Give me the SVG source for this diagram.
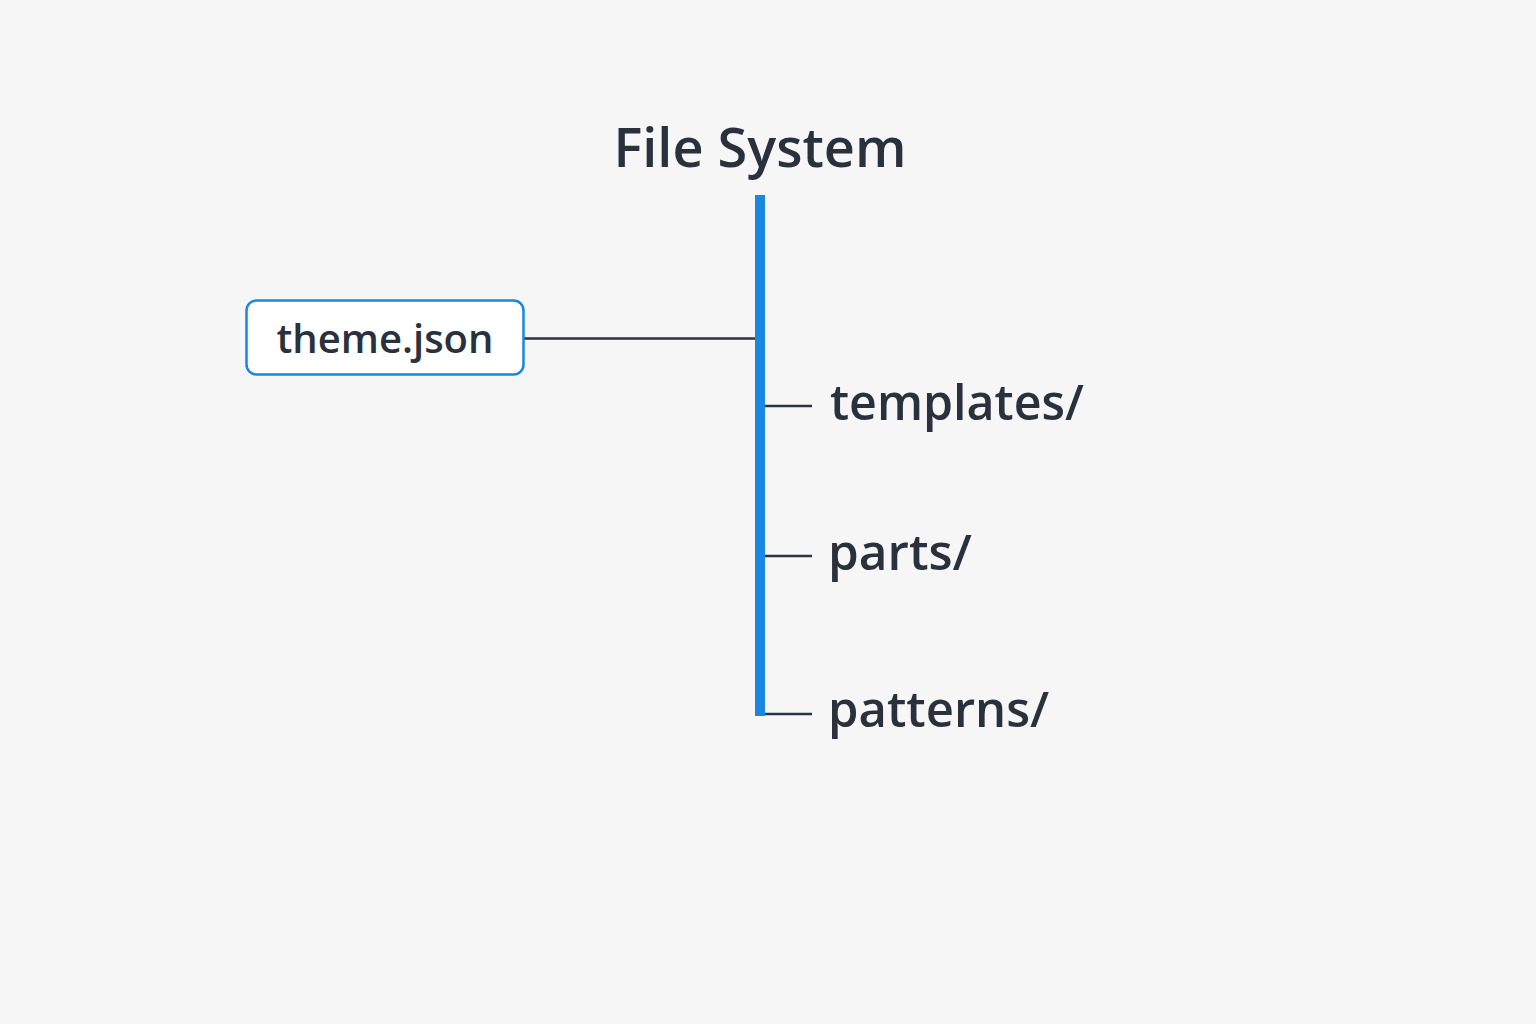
<svg xmlns="http://www.w3.org/2000/svg" width="1536" height="1024" viewBox="0 0 1536 1024">
<style>
.t{font-family:"Open Sans","Noto Sans","Liberation Sans",sans-serif;fill:#29313d;font-weight:600}
.c{stroke:#2b3440;stroke-width:2.5;fill:none}
</style>
<rect width="1536" height="1024" fill="#f6f6f6"/>
<g id="title"><text class="t" x="760" y="167" font-size="54" text-anchor="middle">File System</text></g>
<g id="connectors">
<line class="c" x1="524" y1="338.5" x2="756" y2="338.5"/>
<line class="c" x1="764" y1="406" x2="812" y2="406"/>
<line class="c" x1="764" y1="556" x2="812" y2="556"/>
<line class="c" x1="764" y1="714" x2="812" y2="714"/>
</g>
<g id="trunk"><rect x="755" y="195" width="10" height="521" fill="#1a87e0"/></g>
<g id="theme-json">
<rect x="246.5" y="300.5" width="277" height="74" rx="10" fill="#ffffff" stroke="#1a87e0" stroke-width="2.5"/>
<text class="t" x="385" y="353" font-size="40" text-anchor="middle">theme.json</text>
</g>
<g id="templates"><text class="t" x="830" y="420" font-size="48.3">templates/</text></g>
<g id="parts"><text class="t" x="828" y="570" font-size="49.5">parts/</text></g>
<g id="patterns"><text class="t" x="828" y="727" font-size="49">patterns/</text></g>
</svg>
